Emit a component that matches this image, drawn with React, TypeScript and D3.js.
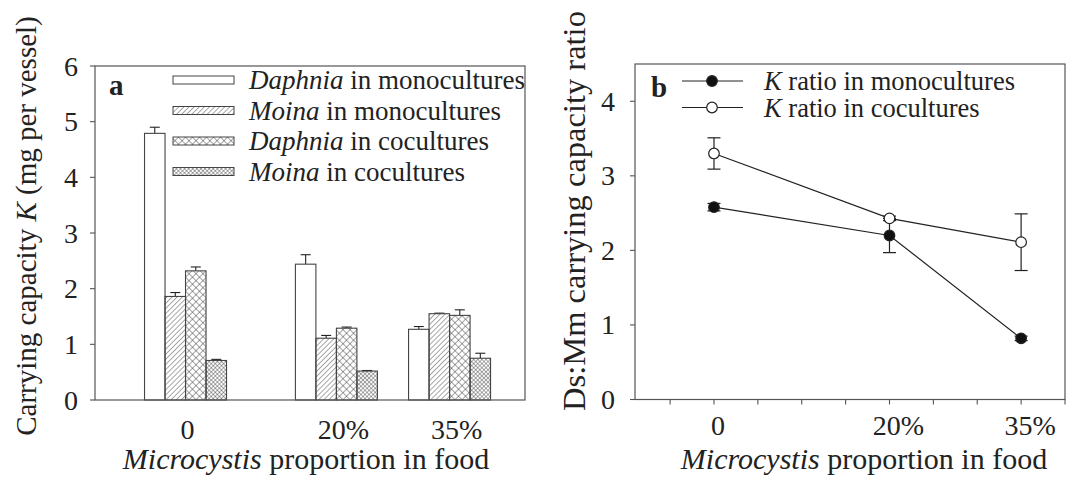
import * as d3 from "d3";

// proportion of Microcystis in food (%), and the labels printed under the axis
const proportions = [0, 20, 35];
const categoryLabels = ["0", "20%", "35%"];

// panel a: carrying capacity K (mg per vessel), mean and upper error
const seriesNames = ["Daphnia mono", "Moina mono", "Daphnia co", "Moina co"];
const daphniaMono = [4.79, 2.44, 1.27];
const daphniaMonoErr = [0.11, 0.17, 0.05];
const moinaMono = [1.86, 1.11, 1.55];
const moinaMonoErr = [0.07, 0.05, 0.01];
const daphniaCo = [2.32, 1.29, 1.52];
const daphniaCoErr = [0.07, 0.02, 0.1];
const moinaCo = [0.71, 0.52, 0.75];
const moinaCoErr = [0.02, 0.01, 0.09];

// panel b: Ds:Mm carrying capacity ratio
const ratioMono = [2.58, 2.2, 0.82];
const ratioMonoErr = [0.05, 0.23, 0.03];
const ratioCo = [3.3, 2.43, 2.11];
const ratioCoErr = [0.21, 0.03, 0.38];

const FONT = '"Liberation Serif", "Times New Roman", Times, "DejaVu Serif", serif';
const INK = "#222";
const FRAME = "#555";

export default function App() {
  const W = 1080;
  const H = 477;

  // ---------- panel a scales ----------
  const ax = d3.scaleLinear().domain([-12, 45]).range([95, 525]);
  const ay = d3.scaleLinear().domain([0, 6]).range([400, 66]);
  const band = d3.scaleBand().domain(seriesNames).range([-41, 41]);

  const barSeries = [
    { name: seriesNames[0], label: "Daphnia", rest: " in monocultures", values: daphniaMono, errs: daphniaMonoErr, fill: "#fff" },
    { name: seriesNames[1], label: "Moina", rest: " in monocultures", values: moinaMono, errs: moinaMonoErr, fill: "url(#hatch)" },
    { name: seriesNames[2], label: "Daphnia", rest: " in cocultures", values: daphniaCo, errs: daphniaCoErr, fill: "url(#cross)" },
    { name: seriesNames[3], label: "Moina", rest: " in cocultures", values: moinaCo, errs: moinaCoErr, fill: "url(#fine)" },
  ];

  // ---------- panel b scales ----------
  const bx = d3.scaleLinear().domain([-9, 40]).range([635, 1065]);
  const by = d3.scaleLinear().domain([0, 4.5]).range([399.5, 64]);
  const lineGen = d3
    .line<number>()
    .x((_, i) => bx(proportions[i]))
    .y((d) => by(d));

  const lineSeries = [
    { label: " ratio in monocultures", values: ratioMono, errs: ratioMonoErr, fill: "#111" },
    { label: " ratio in cocultures", values: ratioCo, errs: ratioCoErr, fill: "#fff" },
  ];

  const pctDx = (lab: string) => (lab.includes("%") ? 7 : 2);

  return (
    <svg
      width={W}
      height={H}
      style={{ position: "absolute", left: 0, top: 0, background: "#fff", fontFamily: FONT }}
    >
      <defs>
        <pattern id="hatch" patternUnits="userSpaceOnUse" width={3.6} height={10} patternTransform="rotate(45)">
          <line x1={0} y1={0} x2={0} y2={10} stroke="#333" strokeWidth={0.9} />
        </pattern>
        <pattern id="cross" patternUnits="userSpaceOnUse" width={4.95} height={4.95} patternTransform="rotate(45)">
          <line x1={0} y1={0} x2={0} y2={4.95} stroke="#333" strokeWidth={0.9} />
          <line x1={0} y1={0} x2={4.95} y2={0} stroke="#333" strokeWidth={0.9} />
        </pattern>
        <pattern id="fine" patternUnits="userSpaceOnUse" width={2.9} height={2.9} patternTransform="rotate(45)">
          <line x1={0} y1={0} x2={0} y2={2.9} stroke="#333" strokeWidth={0.8} />
          <line x1={0} y1={0} x2={2.9} y2={0} stroke="#333" strokeWidth={0.8} />
        </pattern>
      </defs>

      {/* ================= panel a ================= */}
      <g>
        {barSeries.map((s) =>
          s.values.map((v, i) => {
            const x0 = ax(proportions[i]) + (band(s.name) as number);
            const bw = band.bandwidth();
            const top = ay(v);
            const errTop = ay(v + s.errs[i]);
            const cx = x0 + bw / 2;
            return (
              <g key={s.name + i}>
                <line x1={cx} x2={cx} y1={top} y2={errTop} stroke={INK} strokeWidth={1.1} />
                <line x1={cx - 5} x2={cx + 5} y1={errTop} y2={errTop} stroke={INK} strokeWidth={1.1} />
                <rect x={x0} y={top} width={bw} height={ay(0) - top} fill={s.fill} stroke="#444" strokeWidth={1.1} />
              </g>
            );
          })
        )}

        <rect x={ax.range()[0]} y={ay.range()[1]} width={ax.range()[1] - ax.range()[0]} height={ay.range()[0] - ay.range()[1]} fill="none" stroke={FRAME} strokeWidth={1.2} />

        {ay.ticks(6).map((t) => (
          <g key={"ay" + t}>
            <line x1={ax.range()[0] - 5} x2={ax.range()[0]} y1={ay(t)} y2={ay(t)} stroke={FRAME} strokeWidth={1.1} />
            <text x={ax.range()[0] - 17} y={ay(t)} dy="0.34em" textAnchor="end" fontSize={28} fill={INK}>
              {t}
            </text>
          </g>
        ))}

        {categoryLabels.map((lab, i) => (
          <text key={"axl" + i} x={ax(proportions[i]) + pctDx(lab)} y={439} textAnchor="middle" fontSize={28} fill={INK}>
            {lab}
          </text>
        ))}

        <text x={(ax.range()[0] + ax.range()[1]) / 2 - 4} y={469} textAnchor="middle" fontSize={30} fill={INK}>
          <tspan fontStyle="italic">Microcystis</tspan> proportion in food
        </text>

        <text transform={`translate(36, 226) rotate(-90)`} textAnchor="middle" fontSize={29} fill={INK}>
          Carrying capacity <tspan fontStyle="italic">K</tspan> (mg per vessel)
        </text>

        <text x={109} y={95} fontSize={29} fontWeight="bold" fill={INK}>
          a
        </text>

        {barSeries.map((s, i) => {
          const yc = 80 + i * 30.5;
          return (
            <g key={"leg" + i}>
              <rect x={173} y={yc - 4} width={61} height={8} fill={s.fill} stroke="#444" strokeWidth={1} />
              <text x={249} y={yc + 9} fontSize={27} fill={INK}>
                <tspan fontStyle="italic">{s.label}</tspan>
                {s.rest}
              </text>
            </g>
          );
        })}
      </g>

      {/* ================= panel b ================= */}
      <g>
        <rect x={bx.range()[0]} y={by.range()[1]} width={bx.range()[1] - bx.range()[0]} height={by.range()[0] - by.range()[1]} fill="none" stroke={FRAME} strokeWidth={1.2} />

        {d3.range(-5, 41, 5).map((t) => (
          <line key={"bxt" + t} x1={bx(t)} x2={bx(t)} y1={by(0)} y2={by(0) + 5} stroke={FRAME} strokeWidth={1.1} />
        ))}
        {by.ticks(5).filter((t) => t <= 4).map((t) => (
          <g key={"byt" + t}>
            <line x1={bx.range()[0] - 5} x2={bx.range()[0]} y1={by(t)} y2={by(t)} stroke={FRAME} strokeWidth={1.1} />
            <text x={bx.range()[0] - 20} y={by(t)} dy="0.34em" textAnchor="end" fontSize={28} fill={INK}>
              {t}
            </text>
          </g>
        ))}
        {categoryLabels.map((lab, i) => (
          <text key={"bxl" + i} x={bx(proportions[i]) + pctDx(lab) + 2} y={435} textAnchor="middle" fontSize={28} fill={INK}>
            {lab}
          </text>
        ))}

        <text x={(bx.range()[0] + bx.range()[1]) / 2 + 14} y={469} textAnchor="middle" fontSize={30} fill={INK}>
          <tspan fontStyle="italic">Microcystis</tspan> proportion in food
        </text>

        <text transform={`translate(585, 211) rotate(-90)`} textAnchor="middle" fontSize={32.5} fill={INK}>
          Ds:Mm carrying capacity ratio
        </text>

        <text x={651} y={97} fontSize={29} fontWeight="bold" fill={INK}>
          b
        </text>

        {lineSeries.map((s, k) => (
          <g key={"ls" + k}>
            <path d={lineGen(s.values) ?? ""} fill="none" stroke={INK} strokeWidth={1.2} />
            {s.values.map((v, i) => {
              const cx = bx(proportions[i]);
              return (
                <g key={"e" + i}>
                  <line x1={cx} x2={cx} y1={by(v - s.errs[i])} y2={by(v + s.errs[i])} stroke={INK} strokeWidth={1.2} />
                  <line x1={cx - 6.5} x2={cx + 6.5} y1={by(v + s.errs[i])} y2={by(v + s.errs[i])} stroke={INK} strokeWidth={1.2} />
                  <line x1={cx - 6.5} x2={cx + 6.5} y1={by(v - s.errs[i])} y2={by(v - s.errs[i])} stroke={INK} strokeWidth={1.2} />
                </g>
              );
            })}
          </g>
        ))}
        {lineSeries.map((s, k) =>
          s.values.map((v, i) => (
            <circle key={"pt" + k + i} cx={bx(proportions[i])} cy={by(v)} r={5.3} fill={s.fill} stroke={INK} strokeWidth={1.2} />
          ))
        )}

        {lineSeries.map((s, k) => {
          const yc = 81 + k * 26.5;
          return (
            <g key={"lg" + k}>
              <line x1={682} x2={743} y1={yc} y2={yc} stroke={INK} strokeWidth={1.2} />
              <circle cx={712} cy={yc} r={5.3} fill={s.fill} stroke={INK} strokeWidth={1.2} />
              <text x={764} y={yc + 9} fontSize={26.5} fill={INK}>
                <tspan fontStyle="italic">K</tspan>
                {s.label}
              </text>
            </g>
          );
        })}
      </g>
    </svg>
  );
}
